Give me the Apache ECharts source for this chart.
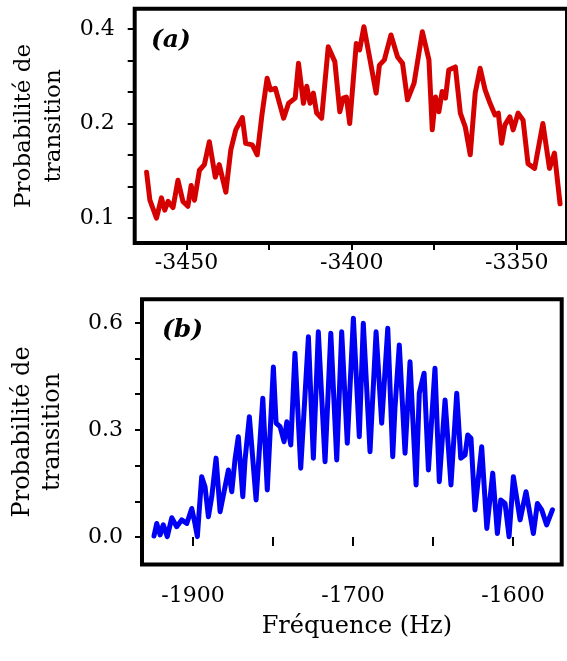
<!DOCTYPE html>
<html><head><meta charset="utf-8">
<script src="https://cdn.jsdelivr.net/npm/echarts@6/dist/echarts.min.js"></script>
<style>html,body{margin:0;padding:0;background:#fff}#c{width:567px;height:661px}</style>
</head><body><div id="c"></div>
<script>
// ---- Panel (a) data ----
const topFreq = [-3462.1,-3461.1,-3459.1,-3457.6,-3456.6,-3455.6,-3454.1,-3452.6,-3451.1,-3449.6,-3448.6,-3447.6,-3446.1,-3444.6,-3443.1,-3441.3,-3440.1,-3438.1,-3436.6,-3435.1,-3433.1,-3432.1,-3430.1,-3428.6,-3427.1,-3425.6,-3424.6,-3423.1,-3420.6,-3419.1,-3417.1,-3416.1,-3414.6,-3413.6,-3412.6,-3411.6,-3410.6,-3409.1,-3407.1,-3405.1,-3403.6,-3402.6,-3401.6,-3400.6,-3398.6,-3397.6,-3396.3,-3394.6,-3392.6,-3391.6,-3390.1,-3388.1,-3386.1,-3384.6,-3383.1,-3381.1,-3378.6,-3376.6,-3375.6,-3374.6,-3373.6,-3372.6,-3371.6,-3370.6,-3368.6,-3367.1,-3365.6,-3364.1,-3362.6,-3361.1,-3359.6,-3358.1,-3356.6,-3355.6,-3354.6,-3353.6,-3352.1,-3351.1,-3349.6,-3348.1,-3346.6,-3344.6,-3342.1,-3340.1,-3338.6,-3336.9];
const topProb = [0.140,0.114,0.100,0.116,0.106,0.113,0.108,0.132,0.113,0.109,0.127,0.114,0.142,0.148,0.175,0.135,0.148,0.121,0.165,0.191,0.209,0.173,0.171,0.159,0.216,0.279,0.256,0.259,0.208,0.232,0.241,0.311,0.232,0.263,0.232,0.250,0.216,0.208,0.351,0.315,0.218,0.241,0.243,0.200,0.360,0.343,0.407,0.326,0.250,0.307,0.319,0.383,0.326,0.311,0.238,0.269,0.392,0.319,0.191,0.243,0.218,0.253,0.241,0.296,0.303,0.216,0.195,0.159,0.250,0.300,0.256,0.232,0.213,0.216,0.173,0.198,0.210,0.191,0.216,0.205,0.149,0.144,0.200,0.144,0.161,0.111];
// ---- Panel (b) data ----
const botFreq = [-1824.4,-1822.7,-1820.6,-1818.6,-1816.1,-1813.3,-1810.2,-1807.1,-1803.9,-1800.8,-1798.8,-1797.3,-1794.6,-1792.5,-1790.4,-1788.3,-1785.6,-1783.1,-1780.0,-1777.9,-1775.8,-1773.8,-1771.7,-1768.9,-1767.5,-1764.8,-1760.6,-1756.4,-1753.6,-1749.8,-1748.1,-1745.6,-1743.1,-1741.4,-1738.9,-1736.3,-1732.7,-1727.9,-1724.8,-1721.7,-1717.5,-1713.9,-1710.2,-1707.1,-1703.6,-1699.8,-1696.1,-1693.6,-1689.4,-1685.6,-1682.1,-1678.3,-1675.2,-1673.8,-1671.1,-1667.5,-1664.4,-1660.6,-1658.6,-1655.6,-1652.9,-1648.8,-1646.1,-1642.5,-1638.8,-1635.2,-1632.7,-1630.0,-1628.3,-1626.3,-1623.8,-1619.6,-1616.4,-1612.7,-1609.8,-1607.7,-1605.0,-1602.5,-1599.8,-1595.6,-1591.9,-1587.3,-1584.8,-1582.1,-1579.0,-1575.4];
const botProb = [0.003,0.038,0.006,0.034,0.001,0.054,0.029,0.048,0.038,0.080,0.038,0.001,0.169,0.141,0.057,0.113,0.221,0.071,0.141,0.188,0.127,0.216,0.281,0.113,0.216,0.337,0.104,0.389,0.132,0.476,0.319,0.309,0.267,0.323,0.258,0.515,0.193,0.561,0.221,0.575,0.211,0.571,0.216,0.575,0.263,0.613,0.281,0.599,0.239,0.575,0.319,0.585,0.225,0.361,0.538,0.235,0.491,0.146,0.403,0.459,0.188,0.473,0.155,0.384,0.146,0.403,0.221,0.230,0.286,0.277,0.076,0.253,0.024,0.179,0.010,0.104,0.094,0.001,0.169,0.048,0.127,0.010,0.094,0.076,0.034,0.076];
// ---- ticks & labels ----
const topXTicks = [-3450,-3425,-3400,-3375,-3350];
const topXLabels = [-3450,-3400,-3350];
const topYTicks = [0.1,0.12599,0.15874,0.2,0.25198,0.31748,0.4];
const topYLabels = [0.1,0.2,0.4];
const botXTicks = [-1800,-1750,-1700,-1650,-1600];
const botXLabelValues = [-1800,-1700,-1600];
const botXLabelTexts = ['-1900','-1700','-1600'];
const botYTicks = [0,0.1,0.2,0.3,0.4,0.5,0.6];
const botYLabels = [0,0.3,0.6];

const FONT = 'DejaVu Serif';
const tickStyle = {color:'#000', width:2};
function nearestLabel(v, arr, texts){
  let bi=0, bd=Infinity;
  arr.forEach((a,i)=>{const d=Math.abs(a-v); if(d<bd){bd=d;bi=i;}});
  return texts ? texts[bi] : arr[bi].toFixed(1);
}
const chart = echarts.init(document.getElementById('c'), null, {renderer:'canvas'});
chart.setOption({
  animation:false,
  backgroundColor:'#fff',
  grid:[
    {left:134.7, top:8.8, width:436.3, height:234.2, show:true, borderColor:'#000', borderWidth:4},
    {left:142, top:299.3, width:419.7, height:265.2, show:true, borderColor:'#000', borderWidth:4}
  ],
  xAxis:[
    {gridIndex:0, type:'value', min:-3465.7, max:-3334.8,
     axisLine:{show:false}, splitLine:{show:false},
     axisTick:{customValues:topXTicks, length:7, lineStyle:tickStyle},
     axisLabel:{customValues:topXLabels, margin:9, color:'#000', fontFamily:FONT, fontSize:22,
       formatter:v=>String(Math.round(v))}},
    {gridIndex:1, type:'value', min:-1831.9, max:-1569.6,
     axisLine:{show:false}, splitLine:{show:false},
     axisTick:{customValues:botXTicks, length:9, lineStyle:tickStyle},
     axisLabel:{customValues:botXLabelValues, margin:21, color:'#000', fontFamily:FONT, fontSize:22,
       formatter:v=>nearestLabel(v, botXLabelValues, botXLabelTexts)},
     name:'Fréquence (Hz)', nameLocation:'middle', nameGap:50,
     nameTextStyle:{color:'#000', fontFamily:FONT, fontSize:24, padding:[0,0,0,10]}}
  ],
  yAxis:[
    {gridIndex:0, type:'log', logBase:2, min:0.0833, max:0.464,
     axisLine:{show:false}, splitLine:{show:false}, minorTick:{show:false},
     axisTick:{customValues:topYTicks, length:7, lineStyle:tickStyle},
     axisLabel:{customValues:topYLabels, margin:20, color:'#000', fontFamily:FONT, fontSize:22,
       formatter:v=>nearestLabel(v, topYLabels)},
     name:'Probabilité de\ntransition', nameLocation:'middle', nameGap:66, nameRotate:90,
     nameTextStyle:{color:'#000', fontFamily:FONT, fontSize:23, lineHeight:30}},
    {gridIndex:1, type:'value', min:-0.077, max:0.666,
     axisLine:{show:false}, splitLine:{show:false},
     axisTick:{customValues:botYTicks, length:7, lineStyle:tickStyle},
     axisLabel:{customValues:botYLabels, margin:19, color:'#000', fontFamily:FONT, fontSize:22,
       formatter:v=>nearestLabel(v, botYLabels)},
     name:'Probabilité de\ntransition', nameLocation:'middle', nameGap:74, nameRotate:90,
     nameTextStyle:{color:'#000', fontFamily:FONT, fontSize:24, lineHeight:30}}
  ],
  graphic:[
    {type:'text', left:151, top:28, style:{text:'(a)', font:'italic bold 25px "DejaVu Serif"', fill:'#000'}},
    {type:'text', left:162, top:318, style:{text:'(b)', font:'italic bold 25px "DejaVu Serif"', fill:'#000'}}
  ],
  series:[
    {type:'line', xAxisIndex:0, yAxisIndex:0, showSymbol:false, symbol:'none',
     lineStyle:{color:'#d50000', width:5, join:'round', cap:'round'},
     data:topFreq.map((f,i)=>[f, topProb[i]])},
    {type:'line', xAxisIndex:1, yAxisIndex:1, showSymbol:false, symbol:'none',
     lineStyle:{color:'#0000f5', width:5, join:'round', cap:'round'},
     data:botFreq.map((f,i)=>[f, botProb[i]])}
  ]
});
</script></body></html>
